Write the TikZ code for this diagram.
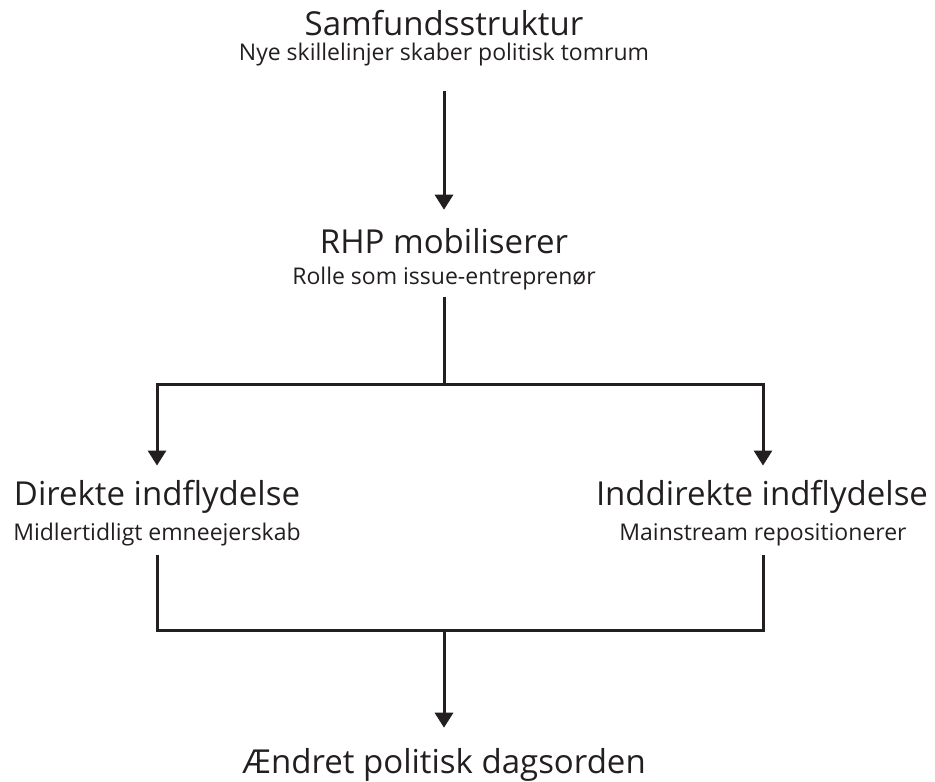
\documentclass[tikz,border=0pt]{standalone}
\usepackage{fontspec}
\setmainfont{Open Sans}
\usetikzlibrary{arrows.meta,positioning}
\definecolor{ink}{RGB}{35,31,32}

\begin{document}
\begin{tikzpicture}[x=1pt, y=-1pt, every node/.style={inner sep=0pt, text=ink}, head/.style={anchor=base, font=\fontsize{33}{36}\selectfont}, sub/.style={anchor=base, font=\fontsize{23}{26}\selectfont}, lijn/.style={draw=ink, line width=3pt}, arr/.style={lijn,-{Triangle[length=15pt,width=18pt]}}]
\useasboundingbox (0,0) rectangle (935,782);
\node[head] (top) at (444,35) {Samfundsstruktur};
\node[sub] (topsub) at (444,60) {Nye skillelinjer skaber politisk tomrum};
\node[head] (rhp) at (444,253) {RHP mobiliserer};
\node[sub] (rhpsub) at (444,284) {Rolle som issue-entreprenør};
\node[head] (dir) at (157,505) {Direkte indflydelse};
\node[sub] (dirsub) at (157,540) {Midlertidligt emneejerskab};
\node[head] (indir) at (762,505) {Inddirekte indflydelse};
\node[sub] (indirsub) at (763,540) {Mainstream repositionerer};
\node[head] (aendret) at (444,773) {Ændret politisk dagsorden};
\coordinate (split) at (444,384);
\coordinate (join) at (444,630);
\draw[arr, shorten <=25pt, shorten >=18pt] (topsub.south) -- (rhp.north);
\draw[lijn] ([yshift=-7pt]rhpsub.south) -- (split);
\draw[arr, shorten >=14pt] (split) -| (dir.north); \draw[arr, shorten >=14pt] (split) -| ([xshift=1pt]indir.north);
\draw[lijn] ([yshift=-9pt]dirsub.south) |- (join) -| ([yshift=-9pt]indirsub.south);
\draw[arr, shorten >=20pt] (join) -- (aendret.north);
\end{tikzpicture}
\end{document}
